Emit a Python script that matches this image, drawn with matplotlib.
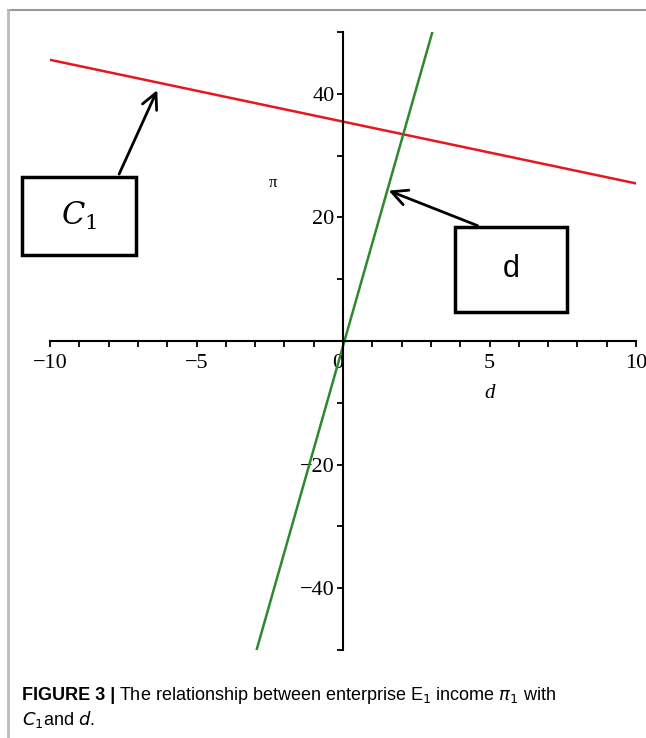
import matplotlib
matplotlib.use("Agg")
import matplotlib.pyplot as plt
from matplotlib.patches import Rectangle
from matplotlib.lines import Line2D
import numpy as np

# data
c1_d = [-10, 10]
c1_pi = [45.5, 25.5]
d_line_d = [-2.95, 3.05]
d_line_pi = [-50, 50]
xticks_major = [-10, -5, 0, 5, 10]
yticks_major = [-40, -20, 20, 40]

W, H = 646, 738
fig = plt.figure(figsize=(W / 100, H / 100), dpi=100)
ax = fig.add_axes([50 / W, (H - 650) / H, 586 / W, 618 / H])

ax.plot(c1_d, c1_pi, color="#e8161e", lw=1.8)
ax.plot(d_line_d, d_line_pi, color="#2b8a2b", lw=1.8)

ax.set_xlim(-10, 10)
ax.set_ylim(-50, 50)
for s in ["top", "right"]:
    ax.spines[s].set_visible(False)
ax.spines["left"].set_position(("data", 0))
ax.spines["bottom"].set_position(("data", 0))
ax.spines["left"].set_linewidth(1.5)
ax.spines["bottom"].set_linewidth(1.5)

serif = "Liberation Serif"
ax.set_xticks(xticks_major)
ax.set_xticklabels(["\u221210", "\u22125", "0", "5", "10"], fontfamily=serif, fontsize=16)
ax.set_xticks(np.arange(-10, 11, 1), minor=True)
ax.set_yticks(yticks_major)
ax.set_yticklabels(["\u221240", "\u221220", "20", "40"], fontfamily=serif, fontsize=16)
ax.set_yticks(np.arange(-50, 51, 10), minor=True)
ax.tick_params(axis="x", which="both", direction="out", length=4, width=1.3, pad=5)
ax.tick_params(axis="y", which="both", direction="out", length=4, width=1.3, pad=2)
for lab in ax.get_xticklabels():
    if lab.get_text() == "0":
        lab.set_horizontalalignment("right")

ax.text(5, -8.5, "d", fontfamily=serif, fontstyle="italic", fontsize=15, ha="center", va="center")
ax.text(-2.4, 25.5, "\u03c0", fontfamily=serif, fontsize=12, ha="center", va="center")

# annotation boxes
ax.add_patch(Rectangle((-10.96, 13.9), 3.89, 12.7, fill=False, lw=2.5, ec="black", clip_on=False))
ax.text(-9.0, 20.2, "$C_1$", fontsize=22, ha="center", va="center",
        math_fontfamily="dejavuserif")
ax.annotate("", xy=(-6.3, 41.0), xytext=(-7.68, 26.6),
            arrowprops=dict(arrowstyle="->", lw=2, color="black", mutation_scale=28),
            annotation_clip=False)

ax.add_patch(Rectangle((3.82, 4.7), 3.83, 13.8, fill=False, lw=2.5, ec="black", clip_on=False))
ax.text(5.75, 11.6, "d", fontsize=22, fontfamily="Liberation Sans", ha="center", va="center")
ax.annotate("", xy=(1.47, 24.5), xytext=(4.68, 18.5),
            arrowprops=dict(arrowstyle="->", lw=2, color="black", mutation_scale=28),
            annotation_clip=False)

# frame lines
fig.add_artist(Line2D([8 / W, 1], [1 - 10 / H, 1 - 10 / H], color="#999999", lw=1.5))
fig.add_artist(Line2D([8 / W, 8 / W], [0, 1 - 10 / H], color="#bbbbbb", lw=2))

# caption
cap_font = "Liberation Sans"
t1 = fig.text(22 / W, 1 - 695 / H, "FIGURE 3 |", fontfamily=cap_font, fontweight="bold",
              fontsize=13, va="center", ha="left")
fig.canvas.draw()
bb = t1.get_window_extent()
fig.text(bb.x1 / W + 4 / W, 1 - 695 / H,
         "The relationship between enterprise E$_1$ income $\\pi_1$ with",
         fontfamily=cap_font, fontsize=13, va="center", ha="left")
fig.text(22 / W, 1 - 720 / H, "$C_1$and $d$.", fontfamily=cap_font, fontsize=13,
         va="center", ha="left")

fig.savefig("out.png", dpi=100)
